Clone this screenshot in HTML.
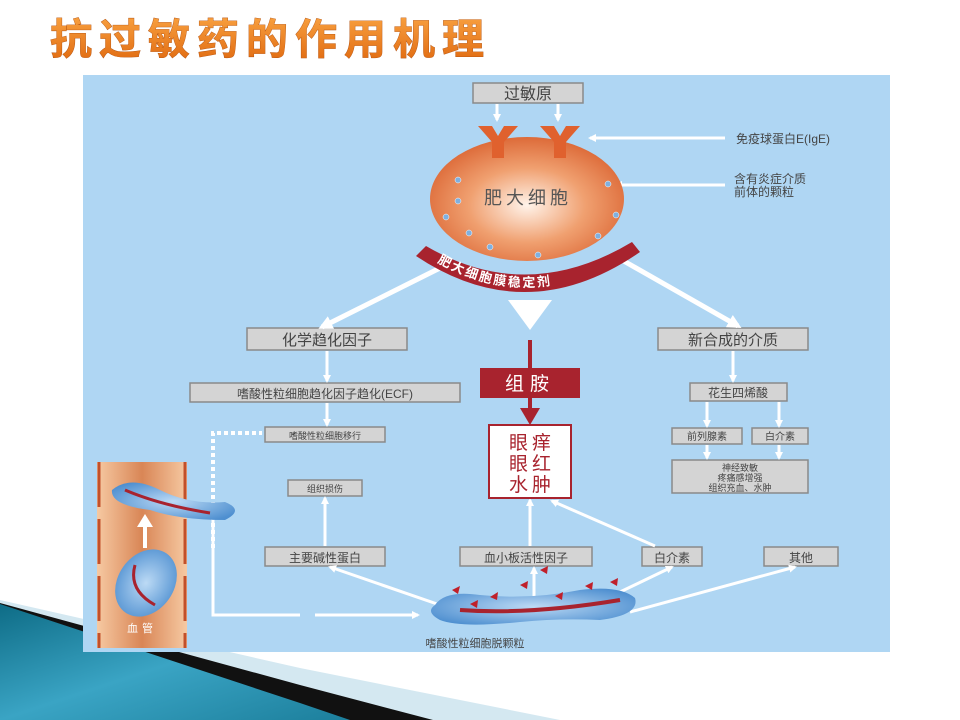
<!DOCTYPE html>
<html><head><meta charset="utf-8"><style>
body{margin:0;width:960px;height:720px;background:#fff;overflow:hidden;font-family:"Liberation Sans","Noto Sans CJK SC",sans-serif}
</style></head><body>
<svg width="960" height="720" xmlns="http://www.w3.org/2000/svg" style="position:absolute;left:0;top:0" font-family="Liberation Sans, Noto Sans CJK SC, sans-serif">
<defs>
<linearGradient id="teal" x1="0" y1="0" x2="1" y2="1"><stop offset="0" stop-color="#0e6c86"/><stop offset="0.5" stop-color="#3aa4c4"/><stop offset="1" stop-color="#1c7f9c"/></linearGradient>
<radialGradient id="cell" cx="0.5" cy="0.55" r="0.6"><stop offset="0" stop-color="#fff3ea"/><stop offset="0.5" stop-color="#f0a070"/><stop offset="1" stop-color="#d9602e"/></radialGradient>
<linearGradient id="vessel" x1="0" x2="1"><stop offset="0" stop-color="#f6c9a2"/><stop offset="0.5" stop-color="#d98656"/><stop offset="1" stop-color="#f6c9a2"/></linearGradient>
<radialGradient id="eos" cx="0.5" cy="0.5" r="0.6"><stop offset="0" stop-color="#bcdaf5"/><stop offset="1" stop-color="#4e8fd0"/></radialGradient>
<linearGradient id="title" x1="0" y1="0" x2="0" y2="1"><stop offset="0" stop-color="#f8a040"/><stop offset="1" stop-color="#e06a10"/></linearGradient>
<marker id="ah" markerWidth="8" markerHeight="8" refX="6" refY="4" orient="auto" markerUnits="userSpaceOnUse"><path d="M0,0 L8,4 L0,8 z" fill="#fff"/></marker>
<marker id="ahb" markerWidth="14" markerHeight="14" refX="10" refY="7" orient="auto" markerUnits="userSpaceOnUse"><path d="M0,0 L14,7 L0,14 z" fill="#fff"/></marker>
</defs>

<!-- bottom-left decoration -->
<polygon points="0,600 300,668 560,720 0,720" fill="#d4e8f1"/>
<polygon points="0,603 300,685 433,720 0,720" fill="#111"/>
<polygon points="0,604 300,703 350,720 0,720" fill="url(#teal)"/>

<!-- title -->
<text x="50" y="54" font-size="42" font-weight="bold" fill="url(#title)" letter-spacing="7" style="paint-order:stroke" stroke="#b05010" stroke-width="0.8">抗过敏药的作用机理</text>

<!-- panel -->
<rect x="83" y="75" width="807" height="577" fill="#afd6f3"/>

<g fill="#d4d4d4" stroke="#8a8a8a" stroke-width="1.5">
<rect x="473" y="83" width="110" height="20"/>
<rect x="247" y="328" width="160" height="22"/>
<rect x="658" y="328" width="150" height="22"/>
<rect x="190" y="383" width="270" height="19"/>
<rect x="265" y="427" width="120" height="15"/>
<rect x="288" y="480" width="74" height="16"/>
<rect x="265" y="547" width="120" height="19"/>
<rect x="460" y="547" width="132" height="19"/>
<rect x="642" y="547" width="60" height="19"/>
<rect x="764" y="547" width="74" height="19"/>
<rect x="690" y="383" width="97" height="18"/>
<rect x="672" y="428" width="70" height="16"/>
<rect x="752" y="428" width="56" height="16"/>
<rect x="672" y="460" width="136" height="33"/>
</g>
<g fill="#444" text-anchor="middle" font-size="14">
<text x="528" y="99" font-size="16">过敏原</text>
<text x="327" y="345" font-size="15">化学趋化因子</text>
<text x="733" y="345" font-size="15">新合成的介质</text>
<text x="325" y="398" font-size="12">嗜酸性粒细胞趋化因子趋化(ECF)</text>
<text x="325" y="439" font-size="9">嗜酸性粒细胞移行</text>
<text x="325" y="492" font-size="9">组织损伤</text>
<text x="325" y="562" font-size="12">主要碱性蛋白</text>
<text x="526" y="562" font-size="12">血小板活性因子</text>
<text x="672" y="562" font-size="12">白介素</text>
<text x="801" y="562" font-size="12">其他</text>
<text x="738" y="397" font-size="12">花生四烯酸</text>
<text x="707" y="440" font-size="10">前列腺素</text>
<text x="780" y="440" font-size="10">白介素</text>
<text x="740" y="471" font-size="9">神经致敏</text>
<text x="740" y="481" font-size="9">疼痛感增强</text>
<text x="740" y="491" font-size="9">组织充血、水肿</text>
<text x="475" y="647" font-size="11">嗜酸性粒细胞脱颗粒</text>
</g>
<g fill="#444" font-size="12">
<text x="736" y="143">免疫球蛋白E(IgE)</text>
<text x="734" y="183">含有炎症介质</text>
<text x="734" y="196">前体的颗粒</text>
</g>

<!-- white arrows -->
<g stroke="#fff" stroke-width="3" fill="none" marker-end="url(#ah)">
<line x1="497" y1="104" x2="497" y2="120"/>
<line x1="558" y1="104" x2="558" y2="120"/>
<line x1="725" y1="138" x2="590" y2="138"/>
<line x1="725" y1="185" x2="616" y2="185"/>
<line x1="327" y1="351" x2="327" y2="381"/>
<line x1="327" y1="403" x2="327" y2="425"/>
<line x1="325" y1="546" x2="325" y2="498"/>
<line x1="530" y1="546" x2="530" y2="500"/>
<line x1="534" y1="600" x2="534" y2="568"/>
<line x1="440" y1="605" x2="330" y2="567"/>
<line x1="620" y1="592" x2="672" y2="567"/>
<line x1="630" y1="612" x2="795" y2="567"/>
<line x1="655" y1="546" x2="552" y2="501"/>
<line x1="733" y1="351" x2="733" y2="381"/>
<line x1="707" y1="402" x2="707" y2="426"/>
<line x1="779" y1="402" x2="779" y2="426"/>
<line x1="707" y1="445" x2="707" y2="458"/>
<line x1="779" y1="445" x2="779" y2="458"/>
<line x1="315" y1="615" x2="418" y2="615"/>
</g>
<g stroke="#fff" stroke-width="5" fill="none" marker-end="url(#ahb)">
<line x1="440" y1="268" x2="322" y2="327"/>
<line x1="615" y1="256" x2="738" y2="326"/>
</g>
<polyline points="213,520 213,615 300,615" stroke="#fff" stroke-width="3" fill="none"/>
<polyline points="213,548 213,433 262,433" stroke="#fff" stroke-width="4" fill="none" stroke-dasharray="4,3"/>
<polygon points="508,300 552,300 530,330" fill="#fff"/>

<!-- mast cell -->
<ellipse cx="527" cy="199" rx="97" ry="62" fill="url(#cell)"/>
<g fill="#e0612e">
<path d="M478,126 h14 l6,10 l6,-10 h14 l-14,16 v16 h-12 v-16 z"/>
<path d="M540,126 h14 l6,10 l6,-10 h14 l-14,16 v16 h-12 v-16 z"/>
</g>
<g fill="#7fb0e0" stroke="#fff" stroke-width="0.5">
<circle cx="458" cy="180" r="3"/><circle cx="458" cy="201" r="3"/><circle cx="446" cy="217" r="3"/>
<circle cx="469" cy="233" r="3"/><circle cx="490" cy="247" r="3"/><circle cx="538" cy="255" r="3"/>
<circle cx="598" cy="236" r="3"/><circle cx="616" cy="215" r="3"/><circle cx="608" cy="184" r="3"/>
</g>
<text x="528" y="204" font-size="18" fill="#555" text-anchor="middle" letter-spacing="4">肥大细胞</text>
<path d="M416,256 Q527,330 640,252 L632,242 Q527,305 426,246 z" fill="#a8232e"/>
<path id="arc" d="M430,258 Q527,318 628,254" fill="none"/>
<text font-size="13" font-weight="bold" fill="#fff" letter-spacing="2"><textPath href="#arc" startOffset="8">肥大细胞膜稳定剂</textPath></text>

<!-- histamine -->
<line x1="530" y1="340" x2="530" y2="412" stroke="#a8232e" stroke-width="4"/>
<polygon points="520,408 540,408 530,425" fill="#a8232e"/>
<rect x="480" y="368" width="100" height="30" fill="#a8232e"/>
<text x="530" y="390" font-size="19" fill="#fff" text-anchor="middle" letter-spacing="6">组胺</text>
<rect x="489" y="425" width="82" height="73" fill="#fff" stroke="#a8232e" stroke-width="2"/>
<g fill="#a8232e" font-size="19" text-anchor="middle" letter-spacing="4">
<text x="532" y="449">眼痒</text><text x="532" y="470">眼红</text><text x="532" y="491">水肿</text>
</g>

<!-- vessel -->
<rect x="97" y="462" width="90" height="186" fill="url(#vessel)"/>
<g stroke="#c2502a" stroke-width="3" stroke-dasharray="45,12">
<line x1="99" y1="462" x2="99" y2="648"/><line x1="185" y1="462" x2="185" y2="648"/>
</g>
<text x="142" y="632" font-size="11" fill="#fff" text-anchor="middle" letter-spacing="4">血管</text>
<path d="M112,490 Q130,475 160,490 Q190,505 225,502 Q245,510 225,520 Q180,520 150,510 Q110,505 112,490z" fill="url(#eos)"/>
<path d="M125,490 Q160,505 210,513" stroke="#a8232e" stroke-width="3" fill="none"/>
<ellipse cx="146" cy="583" rx="28" ry="36" transform="rotate(35 146 583)" fill="url(#eos)"/>
<path d="M135,565 Q128,590 155,605" stroke="#a8232e" stroke-width="3" fill="none"/>
<line x1="145" y1="548" x2="145" y2="522" stroke="#fff" stroke-width="4"/>
<polygon points="137,527 153,527 145,514" fill="#fff"/>

<!-- eosinophil degranulation -->
<path d="M435,605 Q445,590 480,595 Q530,600 580,590 Q620,585 635,598 Q640,615 600,620 Q560,618 520,622 Q460,628 440,620 Q425,612 435,605z" fill="url(#eos)"/>
<path d="M460,610 Q530,615 620,600" stroke="#a8232e" stroke-width="4" fill="none"/>
<g fill="#c0202a">
<polygon points="452,590 460,586 458,594"/><polygon points="490,597 498,592 497,600"/><polygon points="520,585 528,581 527,589"/>
<polygon points="555,596 563,592 562,600"/><polygon points="585,586 593,582 592,590"/><polygon points="610,582 618,578 617,586"/>
<polygon points="540,570 548,566 547,574"/><polygon points="470,604 478,600 477,608"/>
</g>
</svg>
</body></html>
